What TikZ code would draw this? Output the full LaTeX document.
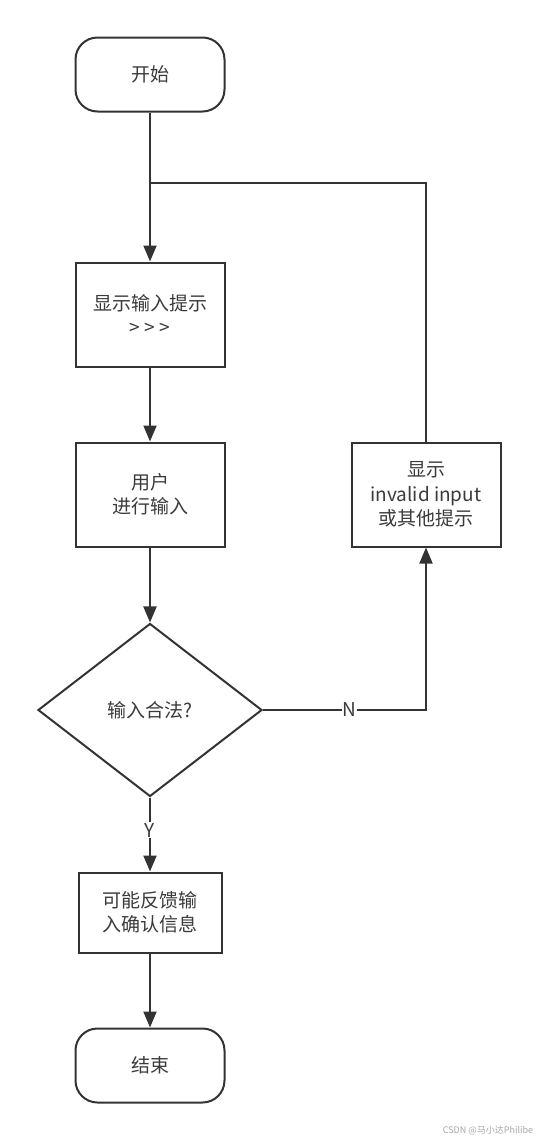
\documentclass[tikz,border=0pt]{standalone}
\usepackage{fontspec}
\setmainfont{Noto Sans CJK SC}
\usetikzlibrary{shapes.geometric,arrows.meta}
\definecolor{linegray}{HTML}{333333}
\definecolor{textgray}{HTML}{3A3A3A}

\begin{document}
\begin{tikzpicture}[x=1pt, y=-1pt,
        every node/.style={font=\fontsize{19}{24.5}\selectfont, text=textgray, align=center},
        terminal/.style={draw=linegray, line width=2pt, rounded corners=22pt, minimum width=149pt, minimum height=74pt},
        process/.style={draw=linegray, line width=2pt, minimum width=149pt, minimum height=104pt},
        decision/.style={draw=linegray, line width=2pt, diamond, minimum width=224pt, minimum height=173pt, inner sep=0pt},
        link/.style={draw=linegray, line width=2pt},
        flow/.style={link, -{Triangle[length=16pt, width=13pt]}},
        edgelabel/.style={fill=white, inner sep=1pt}]
        \useasboundingbox (0,0) rectangle (538,1141);

        \node[terminal] (start) at (150,74.5) {开始};
        \node[process] (prompt) at (150,314.5) {显示输入提示\\\textgreater{} \textgreater{} \textgreater};
        \node[process] (input) at (150,494.5) {用户\\进行输入};
        \node[process] (warn) at (426,494.5) {显示\\invalid input\\或其他提示};
        \node[decision] (check) at (150,710) {输入合法?};
        \node[process, minimum width=143pt, minimum height=80pt] (confirm) at (150,912.5) {可能反馈输\\入确认信息};
        \node[terminal] (stop) at (150,1065.5) {结束};
        \coordinate (merge) at (150,183);

        \draw[flow] (start) -- (prompt);
        \draw[flow] (prompt) -- (input);
        \draw[flow] (input) -- (check);
        \draw[flow] (check) -| node[edgelabel, pos=0.265] {N} (warn);
        \draw[link] (warn) |- (merge);
        \draw[flow] (check) -- node[edgelabel, pos=0.44] {Y} (confirm);
        \draw[flow] (confirm) -- (stop);

        \node[font=\fontsize{9}{9}\selectfont, text=black!35] (credit) at (488,1130) {CSDN @马小达Philibe};
    \end{tikzpicture}
\end{document}
